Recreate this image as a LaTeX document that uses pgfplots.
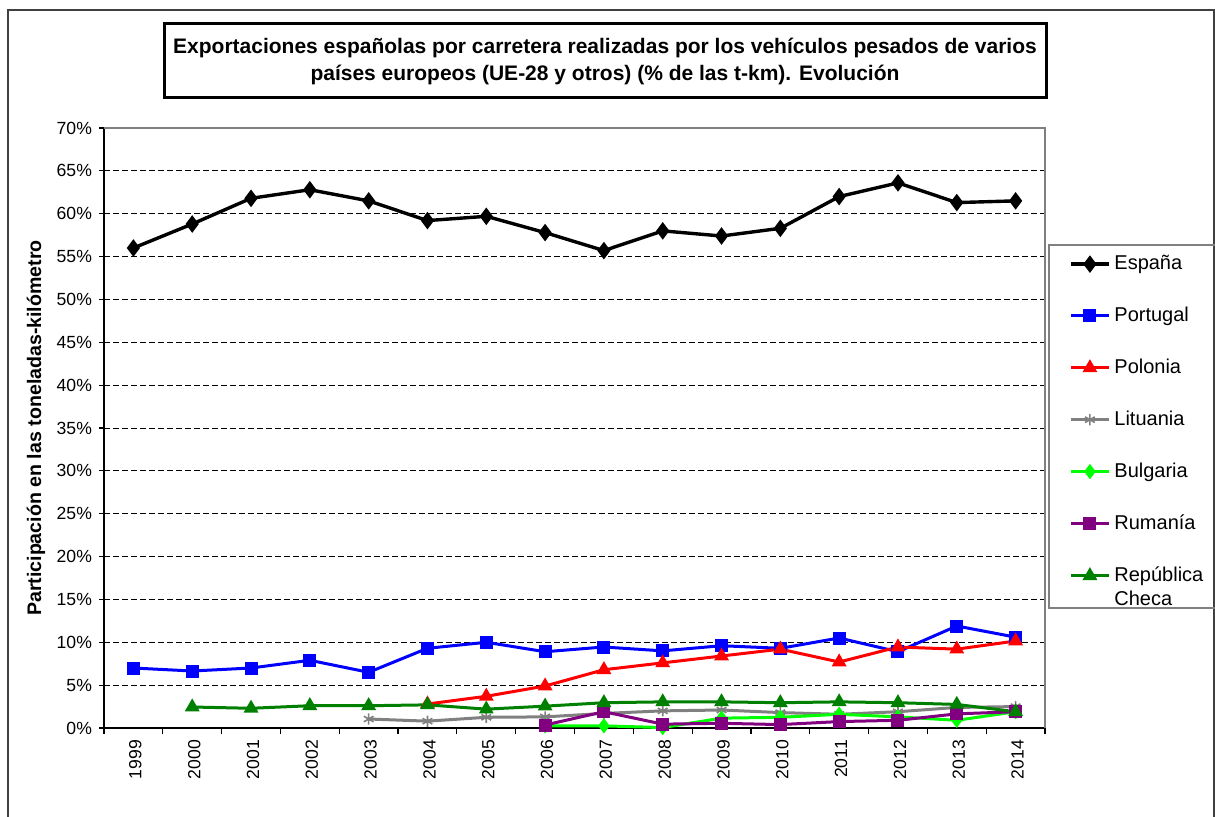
\documentclass[border=0pt]{standalone}
\usepackage{fontspec}
\setmainfont{Liberation Sans}
\usepackage{pgfplots}
\pgfplotsset{compat=1.18}
\definecolor{cgray}{RGB}{128,128,128}
\definecolor{cpurple}{RGB}{128,0,128}
\definecolor{cgreen}{RGB}{0,128,0}
\definecolor{clime}{RGB}{0,255,0}
\begin{document}
\begin{tikzpicture}
\fill[white] (0pt,0pt) rectangle (607.5pt,408pt);
\draw[color=black!75, line width=0.6pt] (4pt,-10pt) -- (4pt,403pt) -- (607pt,403pt) -- (607pt,-10pt);
\draw[line width=1.5pt] (82pt,359pt) rectangle (523pt,396pt);
\node[align=center, font=\bfseries\fontsize{10.5}{13.5}\selectfont] at (302.5pt,377.5pt)
 {Exportaciones españolas por carretera realizadas por los vehículos pesados de varios\\países europeos (UE-28 y otros) (\% de las t-km). Evolución};
\draw[cgray, line width=0.6pt] (524.5pt,104pt) rectangle (612pt,285.5pt);
\begin{axis}[
  at={(52pt,44pt)}, anchor=south west,
  scale only axis, width=470.5pt, height=300pt,
  xmin=-0.5, xmax=15.5, ymin=0, ymax=70,
  xtick={0,...,15},
  xticklabels={1999,2000,2001,2002,2003,2004,2005,2006,2007,2008,2009,2010,2011,2012,2013,2014},
  minor xtick={-0.5,0.5,...,15.5},
  major x tick style={draw=none},
  minor tick length=3pt,
  major tick length=2.5pt,
  tick align=outside, tick pos=left,
  ytick={0,5,...,70},
  yticklabel={\pgfmathprintnumber{\tick}\%},
  /pgf/number format/assume math mode=true,
  ticklabel style={font=\fontsize{8.8}{10}\selectfont},
  xticklabel style={rotate=90, anchor=east, yshift=-1pt},
  axis x line*=bottom, axis y line*=left,
  axis line style={line width=0.6pt, black},
  tick style={line width=0.6pt, black},
  ymajorgrids, grid style={dashed, black, line width=0.5pt, dash pattern=on 3pt off 1.5pt},
  ylabel={Participación en las toneladas-kilómetro},
  ylabel style={at={(axis description cs:-0.0723,0.5)}, anchor=center, rotate=0, font=\bfseries\fontsize{9.8}{11}\selectfont},
  legend cell align=left,
  legend style={at={(axis description cs:1.0043,0.805)}, anchor=north west, draw=none, fill=none,
    inner xsep=10pt, inner ysep=3pt, row sep=13.2pt,
    font=\fontsize{10}{12}\selectfont},
  legend image code/.code={\draw[mark repeat=2,mark phase=2] plot coordinates {(0cm,0cm) (0.33cm,0cm) (0.66cm,0cm)};},
  every axis plot/.append style={line width=1.5pt, mark options={solid}},
  clip=false,
]
\draw[cgray, line width=0.6pt] (rel axis cs:0,1) -- (rel axis cs:1,1) -- (rel axis cs:1,0);
\addplot[black, mark=diamond*, mark size=3pt, line width=1.7pt] coordinates {
(0,56.0) (1,58.8) (2,61.8) (3,62.8) (4,61.5) (5,59.2) (6,59.7) (7,57.8) (8,55.7) (9,58.0) (10,57.4) (11,58.3) (12,62.0) (13,63.6) (14,61.3) (15,61.5)};
\addlegendentry{\makebox[52pt][l]{España}}
\addplot[blue, mark=square*, mark size=2.5pt] coordinates {
(0,7.0) (1,6.65) (2,7.0) (3,7.9) (4,6.5) (5,9.3) (6,10.0) (7,8.9) (8,9.45) (9,9.0) (10,9.6) (11,9.3) (12,10.5) (13,8.9) (14,11.9) (15,10.6)};
\addlegendentry{Portugal}
\addplot[red, mark=triangle*, mark size=2.8pt] coordinates {
(5,2.8) (6,3.7) (7,4.9) (8,6.8) (9,7.6) (10,8.4) (11,9.2) (12,7.7) (13,9.45) (14,9.2) (15,10.15)};
\addlegendentry{Polonia}
\addplot[cgray, mark=asterisk, mark size=2.8pt, mark options={line width=0.8pt}] coordinates {
(4,1.05) (5,0.8) (6,1.25) (7,1.3) (8,1.7) (9,2.0) (10,2.1) (11,1.8) (12,1.6) (13,1.9) (14,2.4) (15,2.5)};
\addlegendentry{Lituania}
\addplot[clime, mark=diamond*, mark size=2.6pt] coordinates {
(7,0.25) (8,0.25) (9,0.05) (10,1.15) (11,1.25) (12,1.6) (13,1.3) (14,0.9) (15,1.9)};
\addlegendentry{Bulgaria}
\addplot[cpurple, mark=square*, mark size=2.5pt] coordinates {
(7,0.35) (8,1.9) (9,0.45) (10,0.55) (11,0.4) (12,0.75) (13,0.9) (14,1.65) (15,1.9)};
\addlegendentry{Rumanía}
\addplot[cgreen, mark=triangle*, mark size=2.8pt] coordinates {
(1,2.45) (2,2.3) (3,2.6) (4,2.6) (5,2.7) (6,2.2) (7,2.55) (8,2.95) (9,3.05) (10,3.05) (11,2.95) (12,3.05) (13,2.95) (14,2.75) (15,1.9)};
\addlegendentry{\parbox[t]{52pt}{República\\Checa}}
\end{axis}
\pgfresetboundingbox
\useasboundingbox (0pt,0pt) rectangle (607.5pt,408pt);
\end{tikzpicture}
\end{document}
